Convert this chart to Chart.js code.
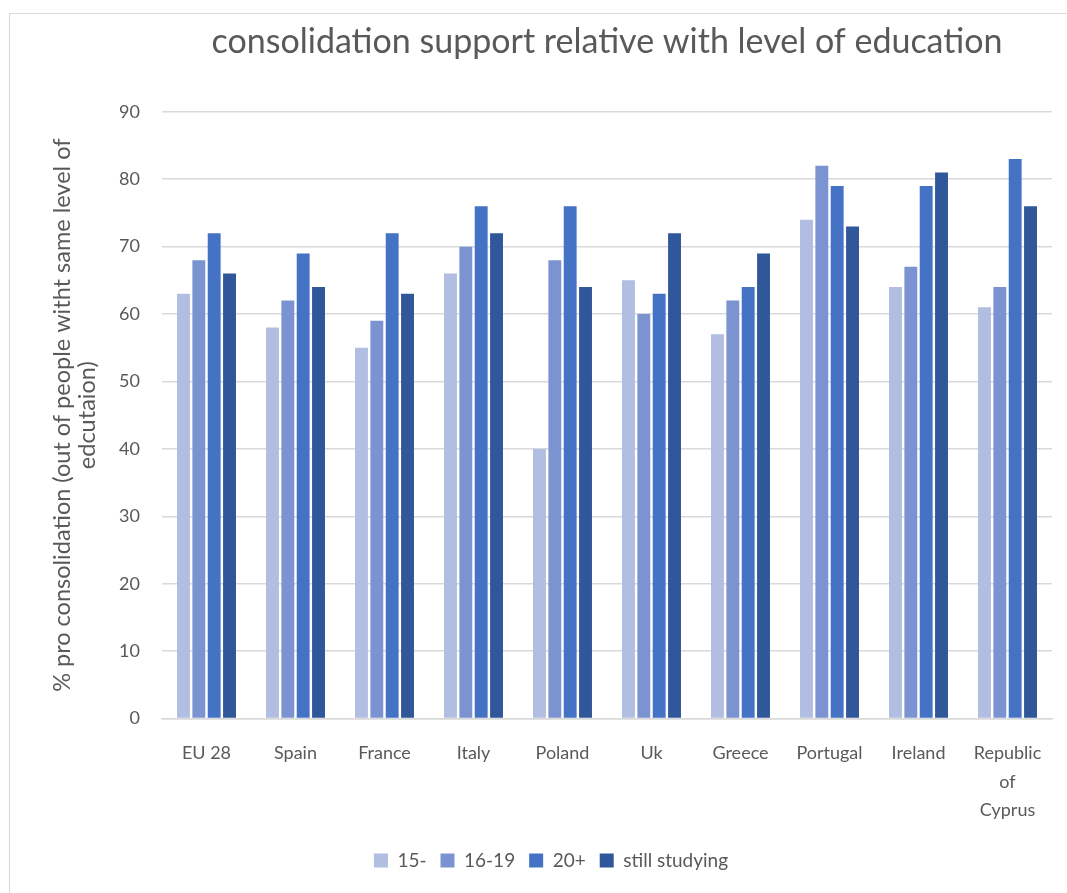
<!DOCTYPE html>
<html>
<head>
<meta charset="utf-8">
<script src="https://cdn.jsdelivr.net/npm/chart.js@4.4.1/dist/chart.umd.min.js"></script>
<style>
  html, body { margin: 0; padding: 0; background: #fff; overflow: hidden; }
  #frame { position: absolute; left: 9px; top: 13px; width: 1200px; height: 1000px; border: 1px solid #d9d9d9; box-sizing: border-box; }
  #wrap { position: absolute; left: 0; top: 0; width: 1067px; height: 893px; }
</style>
</head>
<body>
<div id="frame"></div>
<div id="wrap"><canvas id="eduChart" width="1067" height="893"></canvas></div>
<script>
// ---- data ----
var countries   = ['EU 28', 'Spain', 'France', 'Italy', 'Poland', 'Uk', 'Greece', 'Portugal', 'Ireland', ['Republic', 'of', 'Cyprus']];
var under15     = [63, 58, 55, 66, 40, 65, 57, 74, 64, 61];
var age16to19   = [68, 62, 59, 70, 68, 60, 62, 82, 67, 64];
var age20plus   = [72, 69, 72, 76, 76, 63, 64, 79, 79, 83];
var stillStudy  = [66, 64, 63, 72, 64, 72, 69, 73, 81, 76];
var seriesNames = ['15-', '16-19', '20+', 'still studying'];
var yTicks      = [0, 10, 20, 30, 40, 50, 60, 70, 80, 90];

var txt  = '#595959';
var grid = '#d9d9d9';
var font = 'Lato, "Open Sans", sans-serif';
var colors = ['#b1bde1', '#7b94d1', '#4472c4', '#30579a'];

var allSeries = [under15, age16to19, age20plus, stillStudy];
var datasets = allSeries.map(function(vals, i) {
    return {
        label: seriesNames[i],
        data: vals,
        backgroundColor: colors[i],
        borderWidth: 0,
        categoryPercentage: 0.69,
        barPercentage: 0.84
    };
});

new Chart(document.getElementById('eduChart'), {
    type: 'bar',
    data: { labels: countries, datasets: datasets },
    options: {
        responsive: false,
        animation: false,
        layout: { padding: { left: 50, right: 15, top: 22, bottom: 13 } },
        plugins: {
            title: {
                display: true,
                text: 'consolidation support relative with level of education',
                color: txt,
                fullSize: false,
                font: { family: font, size: 34, weight: 'normal' },
                padding: { top: 0, bottom: 49 }
            },
            legend: {
                position: 'bottom',
                labels: {
                    color: txt,
                    boxWidth: 14,
                    boxHeight: 14,
                    padding: 14,
                    font: { family: font, size: 19 }
                }
            },
            tooltip: { enabled: false }
        },
        scales: {
            x: {
                grid: { display: false },
                border: { display: true, color: grid, width: 1.5 },
                ticks: {
                    color: txt,
                    maxRotation: 0,
                    autoSkip: false,
                    padding: 12,
                    font: { family: font, size: 18, lineHeight: 1.6 }
                }
            },
            y: {
                min: 0,
                max: 90,
                afterBuildTicks: function(axis) {
                    axis.ticks = yTicks.map(function(v) { return { value: v }; });
                },
                afterFit: function(axis) { axis.width = 112; },
                grid: { color: grid, lineWidth: 1.5, drawTicks: false },
                border: { display: false },
                ticks: {
                    color: txt,
                    padding: 22,
                    font: { family: font, size: 18 }
                },
                title: {
                    display: true,
                    text: ['% pro consolidation (out of people witht same level of', 'edcutaion)'],
                    color: txt,
                    font: { family: font, size: 23.5, lineHeight: 1.05 },
                    padding: { top: 0, bottom: 0 }
                }
            }
        }
    }
});
</script>
</body>
</html>
